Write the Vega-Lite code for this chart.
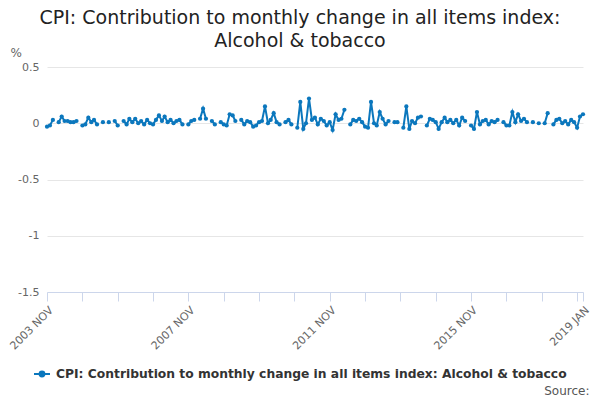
{
  "$schema": "https://vega.github.io/schema/vega-lite/v6.json",
  "width": 536,
  "height": 225,
  "autosize": {"type": "none"},
  "padding": {"left": 47, "top": 67, "right": 17, "bottom": 108},
  "background": "#ffffff",
  "title": {
    "text": ["CPI: Contribution to monthly change in all items index:", "Alcohol & tobacco"],
    "font": "DejaVu Sans",
    "fontSize": 19,
    "fontWeight": "normal",
    "color": "#222222",
    "anchor": "middle",
    "dx": -15,
    "offset": -5,
    "lineHeight": 23
  },
  "data": {
    "values": [
      {"date": "2003-11-01", "value": -0.03}, {"date": "2003-12-01", "value": -0.02},
      {"date": "2004-01-01", "value": 0.03}, {"date": "2004-02-01", "value": null}, {"date": "2004-03-01", "value": 0.01}, {"date": "2004-04-01", "value": 0.06}, {"date": "2004-05-01", "value": 0.02}, {"date": "2004-06-01", "value": 0.02}, {"date": "2004-07-01", "value": 0.01}, {"date": "2004-08-01", "value": 0.01}, {"date": "2004-09-01", "value": 0.02}, {"date": "2004-10-01", "value": null}, {"date": "2004-11-01", "value": -0.02}, {"date": "2004-12-01", "value": -0.01},
      {"date": "2005-01-01", "value": 0.05}, {"date": "2005-02-01", "value": 0.01}, {"date": "2005-03-01", "value": 0.03}, {"date": "2005-04-01", "value": -0.01}, {"date": "2005-05-01", "value": null}, {"date": "2005-06-01", "value": 0.01}, {"date": "2005-07-01", "value": null}, {"date": "2005-08-01", "value": 0.01}, {"date": "2005-09-01", "value": null}, {"date": "2005-10-01", "value": 0.02}, {"date": "2005-11-01", "value": -0.02}, {"date": "2005-12-01", "value": null},
      {"date": "2006-01-01", "value": 0.02}, {"date": "2006-02-01", "value": -0.01}, {"date": "2006-03-01", "value": 0.04}, {"date": "2006-04-01", "value": 0.01}, {"date": "2006-05-01", "value": 0.04}, {"date": "2006-06-01", "value": 0.0}, {"date": "2006-07-01", "value": 0.02}, {"date": "2006-08-01", "value": -0.01}, {"date": "2006-09-01", "value": 0.03}, {"date": "2006-10-01", "value": 0.0}, {"date": "2006-11-01", "value": -0.01}, {"date": "2006-12-01", "value": 0.03},
      {"date": "2007-01-01", "value": 0.07}, {"date": "2007-02-01", "value": 0.02}, {"date": "2007-03-01", "value": 0.06}, {"date": "2007-04-01", "value": 0.01}, {"date": "2007-05-01", "value": 0.03}, {"date": "2007-06-01", "value": 0.0}, {"date": "2007-07-01", "value": 0.02}, {"date": "2007-08-01", "value": 0.03}, {"date": "2007-09-01", "value": -0.01}, {"date": "2007-10-01", "value": null}, {"date": "2007-11-01", "value": -0.01}, {"date": "2007-12-01", "value": 0.02},
      {"date": "2008-01-01", "value": 0.03}, {"date": "2008-02-01", "value": null}, {"date": "2008-03-01", "value": 0.04}, {"date": "2008-04-01", "value": 0.13}, {"date": "2008-05-01", "value": 0.04}, {"date": "2008-06-01", "value": null}, {"date": "2008-07-01", "value": 0.02}, {"date": "2008-08-01", "value": -0.01}, {"date": "2008-09-01", "value": null}, {"date": "2008-10-01", "value": 0.01}, {"date": "2008-11-01", "value": -0.01}, {"date": "2008-12-01", "value": -0.02},
      {"date": "2009-01-01", "value": 0.08}, {"date": "2009-02-01", "value": 0.07}, {"date": "2009-03-01", "value": 0.02}, {"date": "2009-04-01", "value": null}, {"date": "2009-05-01", "value": 0.03}, {"date": "2009-06-01", "value": -0.01}, {"date": "2009-07-01", "value": 0.02}, {"date": "2009-08-01", "value": 0.01}, {"date": "2009-09-01", "value": -0.03}, {"date": "2009-10-01", "value": -0.02}, {"date": "2009-11-01", "value": 0.01}, {"date": "2009-12-01", "value": 0.02},
      {"date": "2010-01-01", "value": 0.15}, {"date": "2010-02-01", "value": 0.0}, {"date": "2010-03-01", "value": 0.03}, {"date": "2010-04-01", "value": 0.09}, {"date": "2010-05-01", "value": 0.01}, {"date": "2010-06-01", "value": -0.01}, {"date": "2010-07-01", "value": null}, {"date": "2010-08-01", "value": 0.01}, {"date": "2010-09-01", "value": 0.03}, {"date": "2010-10-01", "value": -0.01}, {"date": "2010-11-01", "value": null}, {"date": "2010-12-01", "value": -0.04},
      {"date": "2011-01-01", "value": 0.19}, {"date": "2011-02-01", "value": -0.05}, {"date": "2011-03-01", "value": 0.0}, {"date": "2011-04-01", "value": 0.22}, {"date": "2011-05-01", "value": 0.03}, {"date": "2011-06-01", "value": 0.05}, {"date": "2011-07-01", "value": -0.01}, {"date": "2011-08-01", "value": 0.04}, {"date": "2011-09-01", "value": 0.02}, {"date": "2011-10-01", "value": -0.02}, {"date": "2011-11-01", "value": 0.01}, {"date": "2011-12-01", "value": -0.06},
      {"date": "2012-01-01", "value": 0.08}, {"date": "2012-02-01", "value": 0.03}, {"date": "2012-03-01", "value": 0.04}, {"date": "2012-04-01", "value": 0.12}, {"date": "2012-05-01", "value": null}, {"date": "2012-06-01", "value": -0.01}, {"date": "2012-07-01", "value": 0.03}, {"date": "2012-08-01", "value": 0.02}, {"date": "2012-09-01", "value": 0.04}, {"date": "2012-10-01", "value": 0.01}, {"date": "2012-11-01", "value": -0.03}, {"date": "2012-12-01", "value": -0.04},
      {"date": "2013-01-01", "value": 0.19}, {"date": "2013-02-01", "value": 0.0}, {"date": "2013-03-01", "value": -0.02}, {"date": "2013-04-01", "value": 0.10}, {"date": "2013-05-01", "value": 0.04}, {"date": "2013-06-01", "value": -0.01}, {"date": "2013-07-01", "value": 0.02}, {"date": "2013-08-01", "value": null}, {"date": "2013-09-01", "value": 0.01}, {"date": "2013-10-01", "value": 0.01}, {"date": "2013-11-01", "value": null}, {"date": "2013-12-01", "value": -0.04},
      {"date": "2014-01-01", "value": 0.15}, {"date": "2014-02-01", "value": -0.05}, {"date": "2014-03-01", "value": 0.02}, {"date": "2014-04-01", "value": 0.0}, {"date": "2014-05-01", "value": 0.05}, {"date": "2014-06-01", "value": 0.06}, {"date": "2014-07-01", "value": null}, {"date": "2014-08-01", "value": -0.02}, {"date": "2014-09-01", "value": 0.04}, {"date": "2014-10-01", "value": 0.03}, {"date": "2014-11-01", "value": 0.01}, {"date": "2014-12-01", "value": -0.05},
      {"date": "2015-01-01", "value": 0.01}, {"date": "2015-02-01", "value": 0.05}, {"date": "2015-03-01", "value": 0.01}, {"date": "2015-04-01", "value": 0.03}, {"date": "2015-05-01", "value": 0.0}, {"date": "2015-06-01", "value": 0.03}, {"date": "2015-07-01", "value": -0.02}, {"date": "2015-08-01", "value": 0.05}, {"date": "2015-09-01", "value": 0.02}, {"date": "2015-10-01", "value": null}, {"date": "2015-11-01", "value": -0.02}, {"date": "2015-12-01", "value": -0.05},
      {"date": "2016-01-01", "value": 0.10}, {"date": "2016-02-01", "value": -0.01}, {"date": "2016-03-01", "value": 0.02}, {"date": "2016-04-01", "value": 0.03}, {"date": "2016-05-01", "value": -0.01}, {"date": "2016-06-01", "value": 0.02}, {"date": "2016-07-01", "value": 0.01}, {"date": "2016-08-01", "value": 0.03}, {"date": "2016-09-01", "value": null}, {"date": "2016-10-01", "value": 0.01}, {"date": "2016-11-01", "value": -0.02}, {"date": "2016-12-01", "value": -0.02},
      {"date": "2017-01-01", "value": 0.10}, {"date": "2017-02-01", "value": 0.01}, {"date": "2017-03-01", "value": 0.08}, {"date": "2017-04-01", "value": 0.02}, {"date": "2017-05-01", "value": 0.04}, {"date": "2017-06-01", "value": 0.01}, {"date": "2017-07-01", "value": null}, {"date": "2017-08-01", "value": 0.01}, {"date": "2017-09-01", "value": null}, {"date": "2017-10-01", "value": 0.0}, {"date": "2017-11-01", "value": null}, {"date": "2017-12-01", "value": 0.0},
      {"date": "2018-01-01", "value": 0.09}, {"date": "2018-02-01", "value": null}, {"date": "2018-03-01", "value": -0.01}, {"date": "2018-04-01", "value": 0.03}, {"date": "2018-05-01", "value": 0.04}, {"date": "2018-06-01", "value": 0.0}, {"date": "2018-07-01", "value": 0.02}, {"date": "2018-08-01", "value": -0.01}, {"date": "2018-09-01", "value": 0.03}, {"date": "2018-10-01", "value": 0.01}, {"date": "2018-11-01", "value": -0.04}, {"date": "2018-12-01", "value": 0.06},
      {"date": "2019-01-01", "value": 0.08}
    ]
  },
  "encoding": {
    "x": {
      "field": "date",
      "type": "temporal",
      "scale": {
        "type": "utc",
        "domain": [
          {"year": 2003, "month": 11, "date": 1, "utc": true},
          {"year": 2019, "month": 1, "date": 1, "utc": true}
        ]
      },
      "axis": {
        "title": "Source:",
        "titleFont": "DejaVu Sans",
        "titleFontSize": 12,
        "titleFontWeight": "normal",
        "titleColor": "#555555",
        "titleAlign": "right",
        "titleAnchor": null,
        "titleX": 542,
        "titleY": 102,
        "titleBaseline": "alphabetic",
        "values": [
          {"year": 2003, "month": 11, "date": 1, "utc": true},
          {"year": 2004, "month": 11, "date": 1, "utc": true},
          {"year": 2005, "month": 11, "date": 1, "utc": true},
          {"year": 2006, "month": 11, "date": 1, "utc": true},
          {"year": 2007, "month": 11, "date": 1, "utc": true},
          {"year": 2008, "month": 11, "date": 1, "utc": true},
          {"year": 2009, "month": 11, "date": 1, "utc": true},
          {"year": 2010, "month": 11, "date": 1, "utc": true},
          {"year": 2011, "month": 11, "date": 1, "utc": true},
          {"year": 2012, "month": 11, "date": 1, "utc": true},
          {"year": 2013, "month": 11, "date": 1, "utc": true},
          {"year": 2014, "month": 11, "date": 1, "utc": true},
          {"year": 2015, "month": 11, "date": 1, "utc": true},
          {"year": 2016, "month": 11, "date": 1, "utc": true},
          {"year": 2017, "month": 11, "date": 1, "utc": true},
          {"year": 2018, "month": 11, "date": 1, "utc": true},
          {"year": 2019, "month": 1, "date": 1, "utc": true}
        ],
        "labelExpr": "(utcmonth(datum.value) == 10 && (utcyear(datum.value) - 2003) % 4 == 0) || utcyear(datum.value) == 2019 ? upper(utcFormat(datum.value, '%Y %b')) : ''",
        "labelAngle": -45,
        "labelFont": "DejaVu Sans",
        "labelFontSize": 11,
        "labelColor": "#666666",
        "labelOverlap": false,
        "labelFlush": false,
        "labelBound": false,
        "labelPadding": 3,
        "domainColor": "#ccd6eb",
        "tickColor": "#ccd6eb",
        "tickSize": 9,
        "grid": false
      }
    },
    "y": {
      "field": "value",
      "type": "quantitative",
      "scale": {"domain": [-1.5, 0.5], "nice": false, "zero": false},
      "axis": {
        "title": "%",
        "titleAngle": 0,
        "titleFont": "DejaVu Sans",
        "titleFontSize": 12,
        "titleFontWeight": "normal",
        "titleColor": "#666666",
        "titleAlign": "left",
        "titleAnchor": null,
        "titleX": -37,
        "titleY": -11,
        "titleBaseline": "alphabetic",
        "values": [-1.5, -1, -0.5, 0, 0.5],
        "labelExpr": "datum.value + ''",
        "labelFont": "DejaVu Sans",
        "labelFontSize": 11,
        "labelColor": "#666666",
        "labelPadding": 8,
        "domain": false,
        "ticks": false,
        "grid": true,
        "gridColor": "#e6e6e6"
      }
    },
    "color": {
      "datum": "CPI: Contribution to monthly change in all items index: Alcohol & tobacco",
      "type": "nominal",
      "scale": {"range": ["#0b77bd"]},
      "legend": {
        "title": null,
        "orient": "none",
        "legendX": -14,
        "legendY": 298,
        "symbolType": "M-1,0H1M-0.3,0A0.3,0.3,0,1,1,0.3,0A0.3,0.3,0,1,1,-0.3,0Z",
        "symbolSize": 256,
        "symbolStrokeWidth": 2,
        "symbolFillColor": "#0b77bd",
        "symbolStrokeColor": "#0b77bd",
        "labelFont": "DejaVu Sans",
        "labelFontSize": 12.3,
        "labelFontWeight": "bold",
        "labelColor": "#333333",
        "labelLimit": 700,
        "labelOffset": 5
      }
    }
  },
  "layer": [
    {"mark": {"type": "line", "strokeWidth": 2, "invalid": "break-paths-filter-domains"}},
    {"mark": {"type": "point", "filled": true, "size": 18, "opacity": 1}}
  ],
  "config": {"view": {"stroke": null}}
}
